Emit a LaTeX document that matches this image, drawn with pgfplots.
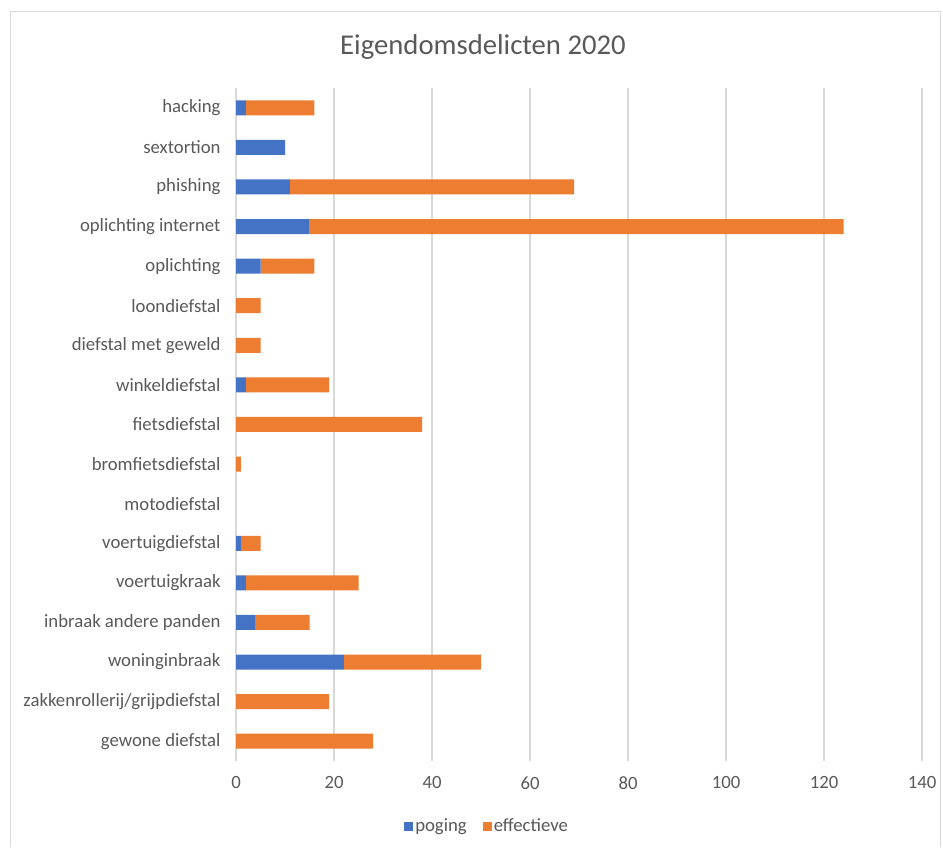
\documentclass[border=0pt]{standalone}
\usepackage{pgfplots}
\pgfplotsset{compat=1.18}
\usepackage{fontspec}
\setmainfont{Carlito}
\definecolor{xblue}{HTML}{4472C4}
\definecolor{xorange}{HTML}{ED7D31}
\definecolor{txt}{HTML}{595959}
\definecolor{gridc}{HTML}{D9D9D9}
\begin{document}
\begin{tikzpicture}[x=1bp,y=1bp]
\path (0,0) rectangle (943,845);
\draw[gridc, line width=1bp] (10.5,-2) -- (10.5,833) -- (940.5,833) -- (940.5,-2);
\node[txt, font=\fontsize{28.8}{32}\selectfont] at (483,798) {Eigendomsdelicten 2020};
\begin{axis}[
  at={(236bp,84bp)}, anchor=south west,
  scale only axis, width=686bp, height=673bp,
  xbar stacked, bar width=15bp,
  xmin=0, xmax=140, ymin=-0.5, ymax=16.5,
  xtick={0,20,...,140},
  ytick={0,...,16},
  yticklabels={gewone diefstal,zakkenrollerij/grijpdiefstal,woninginbraak,inbraak andere panden,voertuigkraak,voertuigdiefstal,motodiefstal,bromfietsdiefstal,fietsdiefstal,winkeldiefstal,diefstal met geweld,loondiefstal,oplichting,oplichting internet,phishing,sextortion,hacking},
  axis line style={draw=none},
  major tick length=0pt,
  xmajorgrids, grid style={gridc, line width=1.5bp},
  tick label style={txt, font=\fontsize{18.8}{20}\selectfont},
  /pgf/number format/assume math mode=true,
  yticklabel style={xshift=-12bp},
  xticklabel style={yshift=-12bp},
  legend style={at={(0.366,-0.0966)}, anchor=center, draw=none, legend columns=2,
    font=\fontsize{18.8}{20}\selectfont, text=txt,
    /tikz/every even column/.append style={column sep=14bp}},
  legend image code/.code={\fill[#1] (0bp,-4.5bp) rectangle (9bp,4.5bp);},
]
\addplot[fill=xblue, draw=none] coordinates {
(0,0) (0,1) (22,2) (4,3) (2,4) (1,5) (0,6) (0,7) (0,8) (2,9) (0,10) (0,11) (5,12) (15,13) (11,14) (10,15) (2,16)};
\addplot[fill=xorange, draw=none] coordinates {
(28,0) (19,1) (28,2) (11,3) (23,4) (4,5) (0,6) (1,7) (38,8) (17,9) (5,10) (5,11) (11,12) (109,13) (58,14) (0,15) (14,16)};
\legend{poging,effectieve}
\end{axis}
\end{tikzpicture}
\end{document}
